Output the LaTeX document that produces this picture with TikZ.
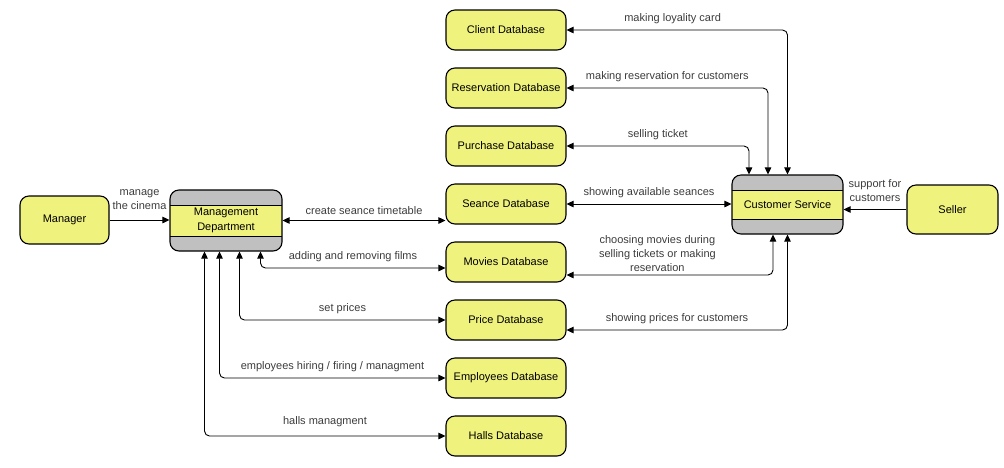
\documentclass[tikz,border=0pt]{standalone}
\usepackage{fontspec}
\setmainfont{Liberation Sans}
\usetikzlibrary{positioning, arrows.meta, calc}

\definecolor{dbyellow}{RGB}{240,242,126}
\definecolor{bandgray}{RGB}{192,192,192}
\definecolor{labelgray}{RGB}{60,60,60}

\tikzset{
  entbox/.style={draw, line width=1.1pt, rounded corners=9pt, fill=dbyellow, minimum width=89pt, minimum height=48pt, inner sep=2pt},
  dbbox/.style={draw, line width=1.1pt, rounded corners=9pt, fill=dbyellow, minimum width=120pt, minimum height=40pt, inner sep=2pt},
  procbox/.style={draw, line width=1.1pt, rounded corners=9pt, fill=bandgray, align=center, inner sep=2pt,
    path picture={
      \fill[dbyellow, sharp corners] ([yshift=-15pt]path picture bounding box.north west) rectangle ([yshift=15pt]path picture bounding box.south east);
      \draw[line width=0.8pt, sharp corners] ([yshift=-15pt]path picture bounding box.north west) -- ([yshift=-15pt]path picture bounding box.north east)
        ([yshift=15pt]path picture bounding box.south west) -- ([yshift=15pt]path picture bounding box.south east);
    }},
  flow/.style={line width=0.9pt, rounded corners=5pt, -{Triangle[length=7pt,width=6.5pt]}},
  both/.style={flow, {Triangle[length=7pt,width=6.5pt]}-{Triangle[length=7pt,width=6.5pt]}},
  lbl/.style={font=\fontsize{11}{14}\selectfont, text=labelgray, align=center, above=2pt}
}

\begin{document}
\begin{tikzpicture}[x=1pt, y=-1pt, font=\fontsize{11}{15}\selectfont]
  \path[use as bounding box] (0,0) rectangle (1004,467);

  % Outside entities
  \node[entbox] (mgr) at (64.5,220) {Manager};
  \node[entbox, minimum width=91pt, minimum height=49pt] (seller) at (952.5,209.5) {Seller};

  % Processes
  \node[procbox, minimum width=112pt, minimum height=61pt] (mgmt) at (226,220.5) {Management\\Department};
  \node[procbox, minimum width=111pt, minimum height=59pt] (cs) at (787.5,204.5) {Customer Service};

  % Databases
  \node[dbbox] (client) at (506,30) {Client Database};
  \node[dbbox, below=16.9pt of client] (resv) {Reservation Database};
  \node[dbbox, below=16.9pt of resv] (purch) {Purchase Database};
  \node[dbbox, below=16.9pt of purch] (seance) {Seance Database};
  \node[dbbox, below=16.9pt of seance] (movies) {Movies Database};
  \node[dbbox, below=16.9pt of movies] (price) {Price Database};
  \node[dbbox, below=16.9pt of price] (empl) {Employees Database};
  \node[dbbox, below=16.9pt of empl] (halls) {Halls Database};

  % Management side
  \draw[flow] (mgr.east) -- node[lbl, above=7pt] {manage\\the cinema} (mgr.east -| mgmt.west);
  \draw[both] (mgmt.east) -- node[lbl] {create seance timetable} (mgmt.east -| seance.west);
  \draw[both] ([xshift=34.5pt]mgmt.south) |- node[lbl, pos=0.75] {adding and removing films} ([yshift=-6pt]movies.west);
  \draw[both] ([xshift=13.5pt]mgmt.south) |- node[lbl, pos=0.75] {set prices} (price.west);
  \draw[both] ([xshift=-6.5pt]mgmt.south) |- node[lbl, pos=0.75] {employees hiring / firing / managment} (empl.west);
  \draw[both] ([xshift=-21.5pt]mgmt.south) |- node[lbl, pos=0.75, above=5pt] {halls managment} (halls.west);

  % Customer service side
  \draw[both] (client.east) -| node[lbl, pos=0.24] {making loyality card} (cs.north);
  \draw[both] (resv.east) -| node[lbl, pos=0.25] {making reservation for customers} ([xshift=-19.5pt]cs.north);
  \draw[both] (purch.east) -| node[lbl, pos=0.25] {selling ticket} ([xshift=-38.5pt]cs.north);
  \draw[both] (seance.east) -- node[lbl] {showing available seances} (seance.east -| cs.west);
  \draw[both] ([yshift=-13pt]movies.east) -| node[lbl, pos=0.22, above=0pt] {choosing movies during\\selling tickets or making\\reservation} ([xshift=-14.5pt]cs.south);
  \draw[both] ([yshift=-10pt]price.east) -| node[lbl, pos=0.25] {showing prices for customers} (cs.south);
  \draw[flow] (seller.west) -- node[lbl, above=4pt] {support for\\customers} (seller.west -| cs.east);
\end{tikzpicture}
\end{document}
